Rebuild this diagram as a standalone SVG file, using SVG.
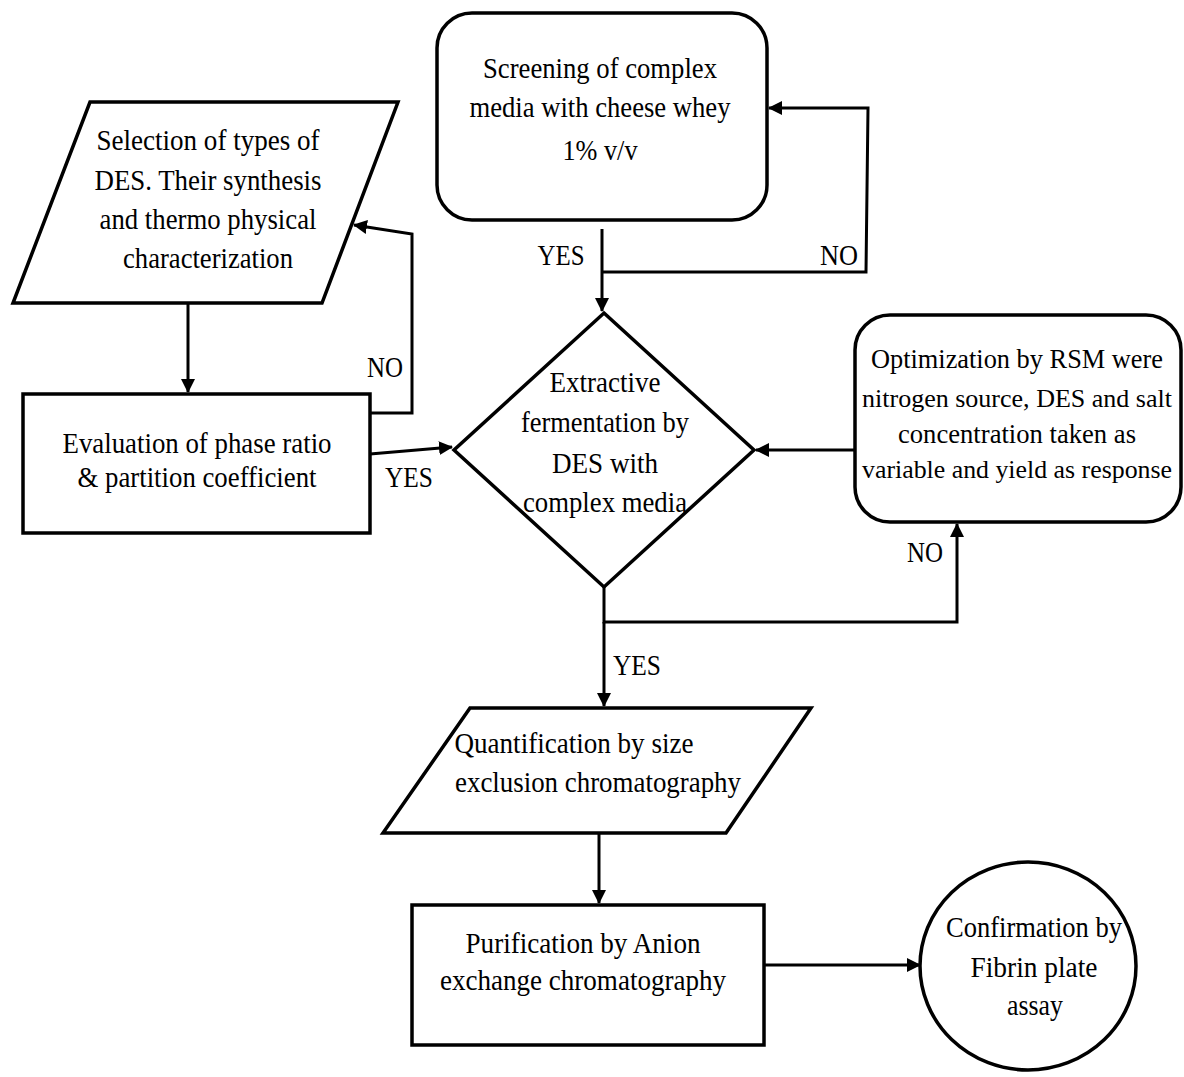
<svg xmlns="http://www.w3.org/2000/svg" width="1184" height="1077" viewBox="0 0 1184 1077">
<defs>
<style>
.shape{fill:#ffffff;stroke:#000000;stroke-width:3.5}
.conn{fill:none;stroke:#000000;stroke-width:3}
text{font-family:"Liberation Serif",Tinos,"Times New Roman","DejaVu Serif",serif;font-size:30px;fill:#000000;text-anchor:middle}
.sm{font-size:27.5px}
.xs{font-size:26px}
</style>
<marker id="arr" markerUnits="userSpaceOnUse" markerWidth="14" markerHeight="14" refX="13" refY="7" orient="auto">
<path d="M0,0 L14,7 L0,14 z" fill="#000000"/>
</marker>
</defs>
<rect width="1184" height="1077" fill="#ffffff"/>

<g id="connectors">
<path class="conn" d="M188,303 L188,392" marker-end="url(#arr)"/>
<path class="conn" d="M370,413 L412,413 L412,234 L354,225" marker-end="url(#arr)"/>
<path class="conn" d="M370,454 L452,447" marker-end="url(#arr)"/>
<path class="conn" d="M602,229 L602,311" marker-end="url(#arr)"/>
<path class="conn" d="M602,272 L866,272 L868,108 L769,108" marker-end="url(#arr)"/>
<path class="conn" d="M855,450 L756,450" marker-end="url(#arr)"/>
<path class="conn" d="M604,587 L604,622 L957,622 L957,524" marker-end="url(#arr)"/>
<path class="conn" d="M604,622 L604,706" marker-end="url(#arr)"/>
<path class="conn" d="M599,833 L599,903" marker-end="url(#arr)"/>
<path class="conn" d="M764,965 L920,965" marker-end="url(#arr)"/>
<text x="385" y="377" textLength="36" lengthAdjust="spacingAndGlyphs">NO</text>
<text x="409" y="487" textLength="48" lengthAdjust="spacingAndGlyphs">YES</text>
<text x="561" y="265" textLength="47" lengthAdjust="spacingAndGlyphs">YES</text>
<text x="839" y="265" textLength="38" lengthAdjust="spacingAndGlyphs">NO</text>
<text x="925" y="562" textLength="36" lengthAdjust="spacingAndGlyphs">NO</text>
<text x="637" y="675" textLength="48" lengthAdjust="spacingAndGlyphs">YES</text>
</g>

<g id="selection">
<polygon class="shape" points="90,102 398,102 322,303 13,303"/>
<text x="208" y="150" textLength="223" lengthAdjust="spacingAndGlyphs">Selection of types of</text>
<text x="208" y="190" textLength="227" lengthAdjust="spacingAndGlyphs">DES. Their synthesis</text>
<text x="208" y="229" textLength="217" lengthAdjust="spacingAndGlyphs">and thermo physical</text>
<text x="208" y="268" textLength="170" lengthAdjust="spacingAndGlyphs">characterization</text>
</g>

<g id="evaluation">
<rect class="shape" x="23" y="394" width="347" height="139"/>
<text x="197" y="453" textLength="269" lengthAdjust="spacingAndGlyphs">Evaluation of phase ratio</text>
<text x="197" y="487" textLength="239" lengthAdjust="spacingAndGlyphs">&amp; partition coefficient</text>
</g>

<g id="screening">
<rect class="shape" x="437" y="13" width="330" height="207" rx="35" ry="35"/>
<text x="600" y="78" textLength="234" lengthAdjust="spacingAndGlyphs">Screening of complex</text>
<text x="600" y="117" textLength="261" lengthAdjust="spacingAndGlyphs">media with cheese whey</text>
<text x="600" y="160" textLength="75" lengthAdjust="spacingAndGlyphs">1% v/v</text>
</g>

<g id="extractive">
<polygon class="shape" points="604,313 754,450 604,587 454,450"/>
<text x="605" y="392" textLength="111" lengthAdjust="spacingAndGlyphs">Extractive</text>
<text x="605" y="432" textLength="168" lengthAdjust="spacingAndGlyphs">fermentation by</text>
<text x="605" y="473" textLength="106" lengthAdjust="spacingAndGlyphs">DES with</text>
<text x="605" y="512" textLength="164" lengthAdjust="spacingAndGlyphs">complex media</text>
</g>

<g id="optimization">
<rect class="shape" x="855" y="315" width="326" height="207" rx="35" ry="35"/>
<text class="sm" x="1017" y="368" textLength="292" lengthAdjust="spacingAndGlyphs">Optimization by RSM were</text>
<text class="xs" x="1017" y="407" textLength="310" lengthAdjust="spacingAndGlyphs">nitrogen source, DES and salt</text>
<text class="sm" x="1017" y="443" textLength="238" lengthAdjust="spacingAndGlyphs">concentration taken as</text>
<text class="xs" x="1017" y="478" textLength="310" lengthAdjust="spacingAndGlyphs">variable and yield as response</text>
</g>

<g id="quantification">
<polygon class="shape" points="470,708 811,708 726,833 383,833"/>
<text x="574" y="753" textLength="239" lengthAdjust="spacingAndGlyphs">Quantification by size</text>
<text x="598" y="792" textLength="286" lengthAdjust="spacingAndGlyphs">exclusion chromatography</text>
</g>

<g id="purification">
<rect class="shape" x="412" y="905" width="352" height="140"/>
<text x="583" y="953" textLength="235" lengthAdjust="spacingAndGlyphs">Purification by Anion</text>
<text x="583" y="990" textLength="286" lengthAdjust="spacingAndGlyphs">exchange chromatography</text>
</g>

<g id="confirmation">
<ellipse class="shape" cx="1028" cy="966" rx="108" ry="104"/>
<text x="1034" y="937" textLength="176" lengthAdjust="spacingAndGlyphs">Confirmation by</text>
<text x="1034" y="977" textLength="127" lengthAdjust="spacingAndGlyphs">Fibrin plate</text>
<text x="1035" y="1015" textLength="56" lengthAdjust="spacingAndGlyphs">assay</text>
</g>
</svg>
